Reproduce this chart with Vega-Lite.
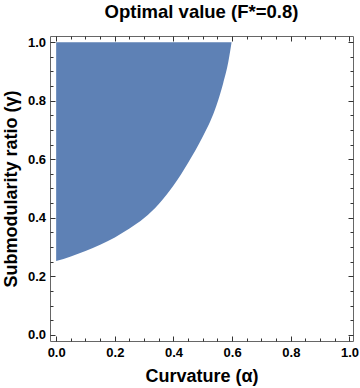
{
  "$schema": "https://vega.github.io/schema/vega-lite/v6.json",
  "autosize": {"type": "none"},
  "width": 303,
  "height": 305,
  "padding": {"left": 50, "top": 36, "right": 7, "bottom": 47},
  "background": "white",
  "title": {
    "text": "Optimal value (F*=0.8)",
    "font": "Liberation Sans",
    "fontSize": 18.5,
    "fontWeight": "bold",
    "color": "black",
    "anchor": "middle",
    "baseline": "alphabetic",
    "offset": -1
  },
  "config": {
    "view": {"stroke": "#666666", "strokeWidth": 1},
    "axis": {"grid": false, "domain": false}
  },
  "data": {
    "values": [
      {"alpha": 0.000, "gamma": 0.252, "top": 1},
      {"alpha": 0.050, "gamma": 0.268, "top": 1},
      {"alpha": 0.100, "gamma": 0.2865, "top": 1},
      {"alpha": 0.150, "gamma": 0.308, "top": 1},
      {"alpha": 0.200, "gamma": 0.333, "top": 1},
      {"alpha": 0.250, "gamma": 0.363, "top": 1},
      {"alpha": 0.300, "gamma": 0.399, "top": 1},
      {"alpha": 0.350, "gamma": 0.447, "top": 1},
      {"alpha": 0.400, "gamma": 0.510, "top": 1},
      {"alpha": 0.450, "gamma": 0.588, "top": 1},
      {"alpha": 0.500, "gamma": 0.678, "top": 1},
      {"alpha": 0.524, "gamma": 0.726, "top": 1},
      {"alpha": 0.547, "gamma": 0.785, "top": 1},
      {"alpha": 0.569, "gamma": 0.858, "top": 1},
      {"alpha": 0.587, "gamma": 0.933, "top": 1},
      {"alpha": 0.598, "gamma": 1.000, "top": 1}
    ]
  },
  "resolve": {"axis": {"x": "independent", "y": "independent"}},
  "layer": [
    {
      "mark": {"type": "area", "color": "#5E81B5", "interpolate": "monotone", "opacity": 1},
      "encoding": {
        "x": {
          "field": "alpha", "type": "quantitative",
          "scale": {"domain": [-0.021, 1.012], "nice": false, "zero": false},
          "axis": {
            "orient": "bottom", "values": [0, 0.2, 0.4, 0.6, 0.8, 1.0], "format": ".1f",
            "ticks": false, "labelPadding": 5,
            "labelFont": "Liberation Sans", "labelFontSize": 13, "labelFontWeight": "bold", "labelColor": "black",
            "labelOverlap": false, "labelFlush": false,
            "title": "Curvature (α)", "titleFont": "Liberation Sans", "titleFontSize": 18, "titleFontWeight": "bold", "titleColor": "black",
            "titleBaseline": "alphabetic", "titleY": 40.5
          }
        },
        "y": {
          "field": "gamma", "type": "quantitative",
          "scale": {"domain": [-0.021, 1.021], "nice": false, "zero": false},
          "axis": {
            "orient": "left", "values": [0, 0.2, 0.4, 0.6, 0.8, 1.0], "format": ".1f",
            "ticks": false, "labelPadding": 4.5,
            "labelFont": "Liberation Sans", "labelFontSize": 13, "labelFontWeight": "bold", "labelColor": "black",
            "labelOverlap": false, "labelFlush": false,
            "title": "Submodularity ratio (γ)", "titleFont": "Liberation Sans", "titleFontSize": 18, "titleFontWeight": "bold", "titleColor": "black",
            "titleAngle": 270, "titleBaseline": "alphabetic", "titleX": -33.5
          }
        },
        "y2": {"field": "top"}
      }
    },
    {
      "mark": {"type": "point", "opacity": 0},
      "encoding": {
        "x": {
          "field": "alpha", "type": "quantitative",
          "axis": {
            "orient": "bottom", "labels": false, "title": null,
            "values": [0, 0.05, 0.1, 0.15, 0.2, 0.25, 0.3, 0.35, 0.4, 0.45, 0.5, 0.55, 0.6, 0.65, 0.7, 0.75, 0.8, 0.85, 0.9, 0.95, 1.0],
            "tickColor": "#333333", "tickWidth": 1,
            "tickSize": {"condition": {"test": "abs(datum.value*5 - round(datum.value*5)) < 0.001", "value": -5}, "value": -3}
          }
        },
        "y": {
          "field": "gamma", "type": "quantitative",
          "axis": {
            "orient": "left", "labels": false, "title": null,
            "values": [0, 0.05, 0.1, 0.15, 0.2, 0.25, 0.3, 0.35, 0.4, 0.45, 0.5, 0.55, 0.6, 0.65, 0.7, 0.75, 0.8, 0.85, 0.9, 0.95, 1.0],
            "tickColor": "#333333", "tickWidth": 1,
            "tickSize": {"condition": {"test": "abs(datum.value*5 - round(datum.value*5)) < 0.001", "value": -5}, "value": -3}
          }
        }
      }
    },
    {
      "mark": {"type": "point", "opacity": 0},
      "encoding": {
        "x": {
          "field": "alpha", "type": "quantitative",
          "axis": {
            "orient": "top", "labels": false, "title": null,
            "values": [0, 0.05, 0.1, 0.15, 0.2, 0.25, 0.3, 0.35, 0.4, 0.45, 0.5, 0.55, 0.6, 0.65, 0.7, 0.75, 0.8, 0.85, 0.9, 0.95, 1.0],
            "tickColor": "#333333", "tickWidth": 1,
            "tickSize": {"condition": {"test": "abs(datum.value*5 - round(datum.value*5)) < 0.001", "value": -5}, "value": -3}
          }
        },
        "y": {
          "field": "gamma", "type": "quantitative",
          "axis": {
            "orient": "right", "labels": false, "title": null,
            "values": [0, 0.05, 0.1, 0.15, 0.2, 0.25, 0.3, 0.35, 0.4, 0.45, 0.5, 0.55, 0.6, 0.65, 0.7, 0.75, 0.8, 0.85, 0.9, 0.95, 1.0],
            "tickColor": "#333333", "tickWidth": 1,
            "tickSize": {"condition": {"test": "abs(datum.value*5 - round(datum.value*5)) < 0.001", "value": -5}, "value": -3}
          }
        }
      }
    }
  ]
}
